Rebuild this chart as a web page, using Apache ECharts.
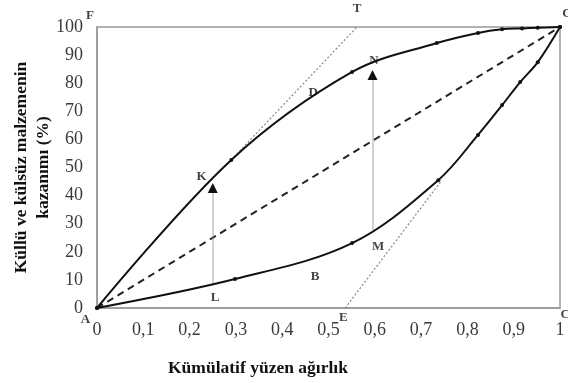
<!DOCTYPE html>
<html>
<head>
<meta charset="utf-8">
<script src="https://cdn.jsdelivr.net/npm/echarts@6/dist/echarts.min.js"></script>
<style>
  html, body { margin: 0; padding: 0; background: #fff; }
  #chart { width: 568px; height: 383px; }
</style>
</head>
<body>
<div id="chart"></div>
<script>
// Cumulative float weight (x) vs. recovery of ash / ashless material (%)
var upperCurve = [[0, 0], [0.29, 52.7], [0.551, 84], [0.734, 94.3], [0.823, 97.9], [0.875, 99.2], [0.918, 99.5], [0.952, 99.7], [1, 100]];
var lowerCurve = [[0, 0], [0.298, 10.3], [0.551, 23.1], [0.737, 45.5], [0.823, 61.6], [0.875, 72.2], [0.914, 80.4], [0.952, 87.5], [1, 100]];
var diagonal = [[0, 0], [1, 100]];
var upperTangent = [[0.29, 52.7], [0.5615, 100]];
var lowerTangent = [[0.536, 0], [0.745, 45.5]];
var arrows = [[[0.25, 8.2], [0.25, 42.7]], [[0.595, 27.8], [0.595, 82.9]]];
var pointLetters = [
  ['F', -0.015, 104], ['T', 0.5616, 106.4], ['C', 1.015, 104.8], ['C', 1.011, -2.5],
  ['A', -0.025, -4.2], ['E', 0.532, -3.3], ['K', 0.226, 46.6], ['D', 0.467, 76.5],
  ['N', 0.598, 88.2], ['M', 0.607, 21.7], ['L', 0.255, 3.6], ['B', 0.471, 11]
];
var xTicks = ['0', '0,1', '0,2', '0,3', '0,4', '0,5', '0,6', '0,7', '0,8', '0,9', '1'];
var yTitle = 'Küllü ve külsüz malzemenin\nkazanımı (%)';
var xTitle = 'Kümülatif yüzen ağırlık';

var serif = "'Liberation Serif', 'DejaVu Serif', serif";
var chart = echarts.init(document.getElementById('chart'), null, { renderer: 'canvas' });

function curveSeries(data) {
  return {
    type: 'line', data: data, smooth: 0.35,
    symbol: 'circle', symbolSize: 4, showSymbol: true,
    lineStyle: { color: '#111', width: 2 }, itemStyle: { color: '#111' },
    silent: true, z: 5
  };
}

// black arrow heads sit on the tip of each grey shaft
var arrowTips = arrows.map(function (a) {
  return { coords: [[a[1][0], a[1][1] - 1.5], a[1]] };
});

chart.setOption({
  animation: false,
  title: {
    text: xTitle, left: 163, top: 354,
    textStyle: { fontFamily: serif, fontSize: 17.5, fontWeight: 'bold', color: '#111' }
  },
  grid: {
    left: 97, right: 8, top: 27, bottom: 75, outerBoundsMode: 'none',
    show: true, borderColor: '#999', borderWidth: 1.5
  },
  xAxis: {
    type: 'value', min: 0, max: 1, interval: 0.1,
    axisLine: { show: true, lineStyle: { color: '#999', width: 1.5 } },
    axisTick: { show: false }, splitLine: { show: false },
    axisLabel: {
      margin: 13, fontFamily: serif, fontSize: 18, color: '#3a3a3a',
      formatter: function (v) { return xTicks[Math.round(v * 10)]; }
    }
  },
  yAxis: {
    type: 'value', min: 0, max: 100, interval: 10,
    name: yTitle, nameLocation: 'middle', nameRotate: 90, nameGap: 43, nameMoveOverlap: false,
    nameTextStyle: { fontFamily: serif, fontSize: 17.5, fontWeight: 'bold', color: '#111', lineHeight: 22 },
    axisLine: { show: true, lineStyle: { color: '#999', width: 1.5 } },
    axisTick: { show: false }, splitLine: { show: false },
    axisLabel: { margin: 14, fontFamily: serif, fontSize: 18, color: '#3a3a3a' }
  },
  series: [
    {
      type: 'line', data: diagonal, symbol: 'none', silent: true,
      lineStyle: { color: '#222', width: 2, type: [7, 5] }, z: 3
    },
    {
      type: 'line', data: upperTangent, symbol: 'none', silent: true,
      lineStyle: { color: '#888', width: 1.2, type: [2, 2] }, z: 2
    },
    {
      type: 'line', data: lowerTangent, symbol: 'none', silent: true,
      lineStyle: { color: '#888', width: 1.2, type: [2, 2] }, z: 2
    },
    curveSeries(upperCurve),
    curveSeries(lowerCurve),
    {
      type: 'lines', coordinateSystem: 'cartesian2d', silent: true, z: 4,
      symbol: 'none',
      lineStyle: { color: '#888', width: 1.5 },
      data: arrows.map(function (a) { return { coords: a }; })
    },
    {
      type: 'lines', coordinateSystem: 'cartesian2d', silent: true, z: 7,
      symbol: ['none', 'triangle'], symbolSize: 10,
      itemStyle: { color: '#111' },
      lineStyle: { color: '#111', width: 1.5, opacity: 1 },
      data: arrowTips
    },
    {
      type: 'scatter', clip: false, silent: true, symbolSize: 0, z: 6,
      data: pointLetters.map(function (p) { return { name: p[0], value: [p[1], p[2]] }; }),
      label: {
        show: true, position: 'inside', formatter: '{b}',
        fontFamily: serif, fontSize: 13, fontWeight: 'bold', color: '#111'
      }
    }
  ]
});
</script>
</body>
</html>
